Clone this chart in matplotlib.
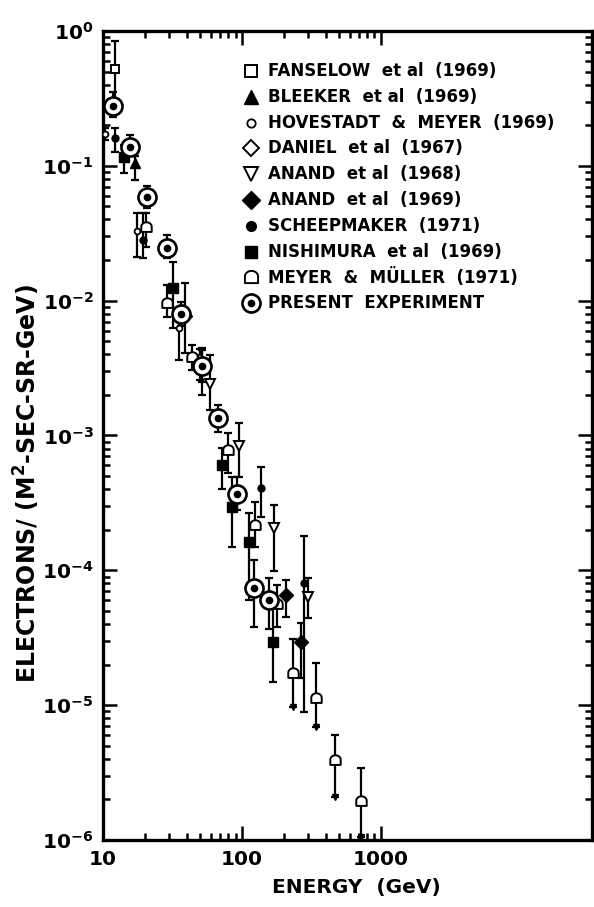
import numpy as np
import matplotlib
matplotlib.use("Agg")
import matplotlib.pyplot as plt
from matplotlib.path import Path
from matplotlib.lines import Line2D
from matplotlib.ticker import FixedLocator, NullFormatter

plt.rcParams['font.family'] = ['DejaVu Sans']
plt.rcParams['font.weight'] = 'bold'
plt.rcParams['mathtext.default'] = 'bf'

# ---- data (energy in GeV, flux, error-bar low/high) ----
fans_E = [12.2]
fans_f = [0.523]
fans_lo = [0.308]
fans_hi = [0.843]

bleek_E = [17.0]
bleek_f = [0.105]
bleek_lo = [0.0785]
bleek_hi = [0.118]

hov_E = [10.3, 17.6, 35.2]
hov_f = [0.172, 0.0328, 0.00626]
hov_lo = [0.155, 0.0211, 0.00362]
hov_hi = [0.19, 0.0447, 0.0078]

dan_E = [49.9]
dan_f = [3.6e-3]
dan_lo = [2.6e-3]
dan_hi = [4.4e-3]

an68_E = [58.9, 95.1, 170, 299]
an68_f = [2.41e-3, 8.34e-4, 2.06e-4, 6.33e-5]
an68_lo = [1.54e-3, 4.91e-4, 9.86e-5, 4.42e-5]
an68_hi = [3.95e-3, 1.24e-3, 3.05e-4, 8.75e-5]

an69_E = [38.9, 51.5, 207, 266]
an69_f = [7.69e-3, 3.16e-3, 6.55e-5, 2.93e-5]
an69_lo = [4.08e-3, 2.0e-3, 4.5e-5, 1.59e-5]
an69_hi = [1.35e-2, 4.45e-3, 8.46e-5, 4.06e-5]

sch_E = [12.2, 19.4, 137, 279]
sch_f = [0.161, 0.0282, 4.07e-4, 8.04e-5]
sch_lo = [0.127, 0.0207, 2.48e-4, 8.9e-6]
sch_hi = [0.191, 0.0447, 5.83e-4, 1.79e-4]

nish_E = [14.2, 31.9, 71.8, 84.7, 112, 167]
nish_f = [0.116, 0.0124, 6.03e-4, 2.94e-4, 1.62e-4, 2.93e-5]
nish_lo = [0.0885, 0.00626, 4.0e-4, 1.49e-4, 6.01e-5, 1.48e-5]
nish_hi = [0.143, 0.0193, 8.07e-4, 4.91e-4, 2.66e-4, 6.33e-5]

mey_E = [20.4, 28.9, 43.7, 79.3, 124, 179]
mey_f = [0.0352, 9.6e-3, 3.82e-3, 7.79e-4, 2.16e-4, 5.61e-5]
mey_lo = [0.025, 7.55e-3, 3.06e-3, 5.26e-4, 1.49e-4, 3.79e-5]
mey_hi = [0.0447, 0.0131, 4.69e-3, 1.04e-3, 3.2e-4, 7.76e-5]

# Meyer & Muller points with downward arrows (upper limits)
meyul_E = [233, 341, 467, 718]
meyul_f = [1.73e-5, 1.13e-5, 3.91e-6, 1.94e-6]
meyul_hi = [3.09e-5, 2.05e-5, 5.99e-6, 3.41e-6]
meyul_tip = [9.66e-6, 6.87e-6, 2.08e-6, 1.05e-6]

pres_E = [11.8, 15.6, 20.7, 28.9, 36.4, 51.5, 67.2, 92, 122, 156]
pres_f = [0.278, 0.138, 0.0587, 0.0246, 7.96e-3, 3.27e-3, 1.35e-3, 3.67e-4, 7.38e-5, 6.01e-5]
pres_lo = [0.230, 0.120, 0.0486, 0.0207, 6.5e-3, 2.5e-3, 1.06e-3, 2.8e-4, 3.79e-5, 3.7e-5]
pres_hi = [0.353, 0.169, 0.0708, 0.0307, 9.8e-3, 4.3e-3, 1.68e-3, 4.91e-4, 1.19e-4, 8.75e-5]

legend_labels = [
    'FANSELOW  et al  (1969)',
    'BLEEKER  et al  (1969)',
    'HOVESTADT  &  MEYER  (1969)',
    'DANIEL  et al  (1967)',
    'ANAND  et al  (1968)',
    'ANAND  et al  (1969)',
    'SCHEEPMAKER  (1971)',
    'NISHIMURA  et al  (1969)',
    'MEYER  &  MÜLLER  (1971)',
    'PRESENT  EXPERIMENT',
]

# dome shaped marker for Meyer & Muller
th = np.linspace(0, np.pi, 24)
dome_v = [(np.cos(t), 0.15 + 0.85 * np.sin(t)) for t in th]
dome_v += [(-1, -0.85), (1, -0.85), (1, 0.15)]
dome = Path(dome_v)

sty = {
    'fans': dict(marker='s', ms=5.5, mfc='white', mec='black', mew=1.4),
    'bleek': dict(marker='^', ms=7, mfc='black', mec='black'),
    'hov': dict(marker='o', ms=4.2, mfc='white', mec='black', mew=1.3),
    'dan': dict(marker='D', ms=6, mfc='white', mec='black', mew=1.4),
    'an68': dict(marker='v', ms=7, mfc='white', mec='black', mew=1.4),
    'an69': dict(marker='D', ms=7, mfc='black', mec='black'),
    'sch': dict(marker='o', ms=5, mfc='black', mec='black'),
    'nish': dict(marker='s', ms=7, mfc='black', mec='black'),
    'mey': dict(marker=dome, ms=7.5, mfc='white', mec='black', mew=1.4),
}
# legend symbols are drawn larger than the data symbols
leg_ms = {'fans': 8, 'bleek': 9.5, 'hov': 6, 'dan': 8.5, 'an68': 9.5,
          'an69': 9.5, 'sch': 7, 'nish': 8, 'mey': 9.5}

fig = plt.figure(figsize=(5.94, 9.07), dpi=100)
ax = fig.add_axes([103 / 594, 67 / 907, 489 / 594, 809 / 907])
ax.set_xscale('log')
ax.set_yscale('log')


def draw(E, f, lo, hi, key):
    E = np.array(E)
    f = np.array(f)
    yerr = [f - np.array(lo), np.array(hi) - f]
    ax.errorbar(E, f, yerr=yerr, fmt='none', ecolor='black',
                elinewidth=1.6, capsize=2.6, capthick=1.6, zorder=2)
    ax.plot(E, f, ls='none', color='black', zorder=3, **sty[key])


draw(fans_E, fans_f, fans_lo, fans_hi, 'fans')
draw(bleek_E, bleek_f, bleek_lo, bleek_hi, 'bleek')
draw(hov_E, hov_f, hov_lo, hov_hi, 'hov')
draw(dan_E, dan_f, dan_lo, dan_hi, 'dan')
draw(an68_E, an68_f, an68_lo, an68_hi, 'an68')
draw(an69_E, an69_f, an69_lo, an69_hi, 'an69')
draw(sch_E, sch_f, sch_lo, sch_hi, 'sch')
draw(nish_E, nish_f, nish_lo, nish_hi, 'nish')
draw(mey_E, mey_f, mey_lo, mey_hi, 'mey')

# upper limits: bar from top cap down to an arrow head
uE = np.array(meyul_E)
uf = np.array(meyul_f)
ax.errorbar(uE, uf, yerr=[uf - np.array(meyul_tip), np.array(meyul_hi) - uf],
            fmt='none', ecolor='black', elinewidth=1.6, capsize=2.6, capthick=1.6)
ax.plot(uE, meyul_tip, ls='none', marker='v', ms=5, color='black')
ax.plot(uE, uf, ls='none', color='black', zorder=3, **sty['mey'])

# present experiment: large open circle with centre dot
pE = np.array(pres_E)
pf = np.array(pres_f)
ax.errorbar(pE, pf, yerr=[pf - np.array(pres_lo), np.array(pres_hi) - pf],
            fmt='none', ecolor='black', elinewidth=1.6, capsize=2.6, capthick=1.6)
ax.plot(pE, pf, ls='none', marker='o', ms=13, mfc='white', mec='black', mew=1.9, zorder=4)
ax.plot(pE, pf, ls='none', marker='o', ms=4.5, color='black', zorder=5)

# axes, ticks
ax.set_xlim(10, 10 ** 4.52)
ax.set_ylim(1e-6, 1)
ax.xaxis.set_major_locator(FixedLocator([10, 100, 1000]))
ax.xaxis.set_minor_locator(FixedLocator(list(range(20, 100, 10)) + list(range(200, 1000, 100))))
ax.xaxis.set_minor_formatter(NullFormatter())
ax.set_xticklabels(['10', '100', '1000'])
ax.yaxis.set_major_locator(FixedLocator(10.0 ** np.arange(-6, 1)))
ax.yaxis.set_minor_locator(FixedLocator([m * 10.0 ** k for k in range(-6, 0) for m in range(2, 10)]))
ax.yaxis.set_minor_formatter(NullFormatter())
ax.set_yticklabels([r'$10^{%d}$' % k for k in range(-6, 1)])
ax.tick_params(which='both', direction='in', top=True, right=True, width=1.8,
               labelsize=14.5, pad=7)
ax.tick_params(which='major', length=10)
ax.tick_params(which='minor', length=5)
for s in ax.spines.values():
    s.set_linewidth(2.4)

fig.text(356 / 594, 1 - 887 / 907, 'ENERGY  (GeV)', ha='center', va='center',
         fontsize=14.5, fontweight='bold')
fig.text(27 / 594, 1 - 483 / 907, 'ELECTRONS/ (M$^2$-SEC-SR-GeV)', rotation=90,
         ha='center', va='center', fontsize=17, fontweight='bold')

# legend drawn by hand
keys = ['fans', 'bleek', 'hov', 'dan', 'an68', 'an69', 'sch', 'nish', 'mey']
for i, lab in enumerate(legend_labels):
    yf = 1 - (71 + 25.8 * i) / 907
    xf = 251 / 594
    if i < len(keys):
        st = dict(sty[keys[i]])
        st['ms'] = leg_ms[keys[i]]
        fig.add_artist(Line2D([xf], [yf], transform=fig.transFigure, ls='none',
                              color='black', **st))
    else:
        fig.add_artist(Line2D([xf], [yf], transform=fig.transFigure, ls='none',
                              marker='o', ms=13, mfc='white', mec='black', mew=1.9))
        fig.add_artist(Line2D([xf], [yf], transform=fig.transFigure, ls='none',
                              marker='o', ms=4.5, color='black'))
    fig.text(268 / 594, yf, lab, ha='left', va='center', fontsize=12, fontweight='bold')

fig.savefig('out.png', dpi=100)
